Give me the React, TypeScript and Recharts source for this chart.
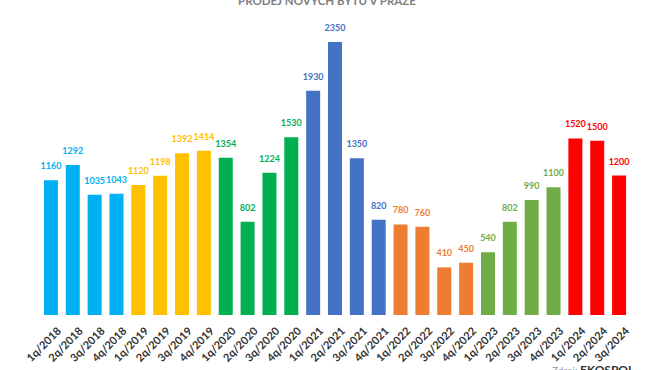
import React from 'react';
import { BarChart, Bar, XAxis, YAxis, Cell, LabelList } from 'recharts';

const quarters = [
  '1q/2018','2q/2018','3q/2018','4q/2018',
  '1q/2019','2q/2019','3q/2019','4q/2019',
  '1q/2020','2q/2020','3q/2020','4q/2020',
  '1q/2021','2q/2021','3q/2021','4q/2021',
  '1q/2022','2q/2022','3q/2022','4q/2022',
  '1q/2023','2q/2023','3q/2023','4q/2023',
  '1q/2024','2q/2024','3q/2024',
];
const sales = [
  1160,1292,1035,1043,
  1120,1198,1392,1414,
  1354,802,1224,1530,
  1930,2350,1350,820,
  780,760,410,450,
  540,802,990,1100,
  1520,1500,1200,
];
const yearColors: Record<string, string> = {
  '2018': '#00B0F0',
  '2019': '#FFC000',
  '2020': '#00B050',
  '2021': '#4472C4',
  '2022': '#ED7D31',
  '2023': '#70AD47',
  '2024': '#FF0000',
};

const data = quarters.map((q, i) => ({ q, v: sales[i] }));
const colorOf = (i: number) => yearColors[quarters[i].split('/')[1]];

const FONT = 'Lato, "Open Sans", sans-serif';

const Tick = (props: any) => {
  const { x, y, payload } = props;
  return (
    <text
      transform={`translate(${x + 5},${y + 3}) rotate(-45)`}
      textAnchor="end"
      dy="0.75em"
      fontSize={11}
      fontWeight={700}
      fontFamily={FONT}
      fill="#333"
    >
      {payload.value}
    </text>
  );
};

const ValueLabel = (props: any) => {
  const { x, y, width, value, index } = props;
  return (
    <text
      x={x + width / 2}
      y={y - 11}
      textAnchor="middle"
      fontSize={9}
      fontWeight={700}
      fontFamily={FONT}
      fill={colorOf(index)}
    >
      {value}
    </text>
  );
};

export default function App() {
  return (
    <div style={{ position: 'fixed', left: 0, top: 0, width: 654, height: 370, overflow: 'hidden', background: '#fff' }}>
      <div style={{ position: 'absolute', top: -6, left: 0, width: 654, textAlign: 'center', fontFamily: FONT, fontWeight: 700, fontSize: 11.5, color: '#7f7f7f', lineHeight: '14px' }}>
        PRODEJ NOVÝCH BYTŮ V PRAZE
      </div>
      <BarChart
        width={654}
        height={370}
        data={data}
        margin={{ top: 42, right: 24, left: 40, bottom: 0 }}
        barCategoryGap="18%"
      >
        <YAxis hide domain={[0, 2350]} />
        <XAxis
          dataKey="q"
          height={55}
          interval={0}
          tickLine={false}
          axisLine={false}
          tick={<Tick />}
        />
        <Bar dataKey="v" isAnimationActive={false}>
          {data.map((d, i) => (
            <Cell key={d.q} fill={colorOf(i)} />
          ))}
          <LabelList dataKey="v" content={<ValueLabel />} />
        </Bar>
      </BarChart>
      <div style={{ position: 'absolute', top: 363, left: 552, fontFamily: FONT, fontSize: 12, lineHeight: '14px', whiteSpace: 'nowrap' }}>
        <span style={{ color: '#999', fontSize: 10 }}>Zdroj: </span>
        <span style={{ color: '#333', fontWeight: 700 }}>EKOSPOL</span>
      </div>
    </div>
  );
}
